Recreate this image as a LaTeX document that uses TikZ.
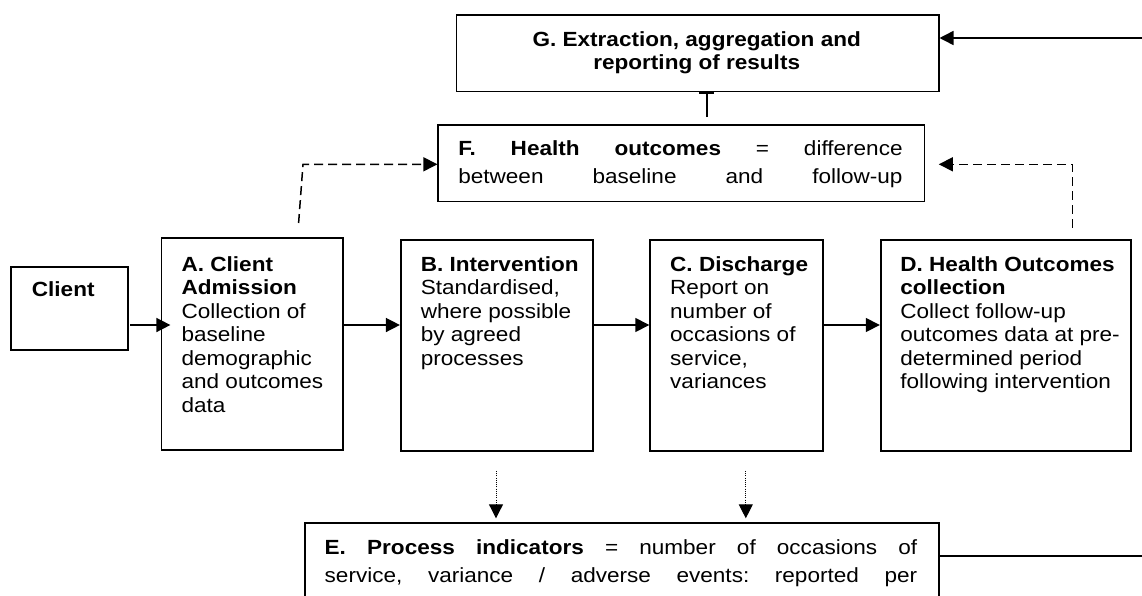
\documentclass[tikz,border=0pt]{standalone}
\usepackage{fontspec}
\setmainfont{Liberation Sans}[FakeStretch=1.1]
\usetikzlibrary{arrows.meta}

\begin{document}
\begin{tikzpicture}[x=1pt,y=-1pt,
  box/.style={draw, line width=1.8pt, inner sep=0pt, anchor=north west},
  txt/.style={inner sep=0pt, anchor=base west, font=\fontsize{20.5pt}{23.5pt}\selectfont},
  tip/.style={-{Triangle[length=14pt,width=14pt]}},
  flow/.style={line width=1.5pt, tip},
  dashflow/.style={line width=1.5pt, dash pattern=on 9pt off 5pt, tip},
  dotflow/.style={line width=1pt, dash pattern=on 1pt off 1.2pt, tip},
  plain/.style={line width=1.5pt}]

\clip (0,0) rectangle (1142,595);

% ---- boxes ----
\node[box, minimum width=482.1pt, minimum height=76.5pt] (G) at (455.6,14) {};
\node[box, minimum width=486.1pt, minimum height=76.5pt] (F) at (437.4,124) {};
\node[box, minimum width=116.5pt, minimum height=83.3pt] (CL) at (10.2,265.7) {};
\node[box, minimum width=181.7pt, minimum height=211.7pt] (A) at (160.6,237.3) {};
\node[box, minimum width=191.9pt, minimum height=211.6pt] (B) at (399.9,238.7) {};
\node[box, minimum width=173.0pt, minimum height=211.6pt] (C) at (649.3,238.7) {};
\node[box, minimum width=250.2pt, minimum height=211.6pt] (D) at (879.8,238.7) {};
\node[box, minimum width=634.0pt, minimum height=120pt] (E) at (303.7,521.7) {};

% ---- texts ----
\node[txt, anchor=base] (tG) at (696.7,46)
  {\parbox[t]{470pt}{\centering\bfseries G. Extraction, aggregation and\\ reporting of results}};

\node[txt] (tF) at (458.1,155)
  {\vtop{\baselineskip=28pt
   \hbox to 444.3pt{\textbf{F.}\hfil\textbf{Health}\hfil\textbf{outcomes}\hfil=\hfil difference}
   \hbox to 444.3pt{between\hfil baseline\hfil and\hfil follow-up}}};

\node[txt] (tCL) at (31.7,296) {\textbf{Client}};

\node[txt] (tA) at (181.4,271)
  {\parbox[t]{160pt}{\raggedright\textbf{A. Client}\\ \textbf{Admission}\\ Collection of\\ baseline\\ demographic\\ and outcomes\\ data}};

\node[txt] (tB) at (420.6,271)
  {\parbox[t]{170pt}{\raggedright\textbf{B. Intervention}\\ Standardised,\\ where possible\\ by agreed\\ processes}};

\node[txt] (tC) at (670,271)
  {\parbox[t]{150pt}{\raggedright\textbf{C. Discharge}\\ Report on\\ number of\\ occasions of\\ service,\\ variances}};

\node[txt] (tD) at (900.2,271)
  {\parbox[t]{225pt}{\raggedright\textbf{D. Health Outcomes}\\ \textbf{collection}\\ Collect follow-up\\ outcomes data at pre-\\ determined period\\ following intervention}};

\node[txt] (tE) at (324.5,554)
  {\vtop{\baselineskip=28pt
   \hbox to 592.5pt{\textbf{E.}\hfil\textbf{Process}\hfil\textbf{indicators}\hfil=\hfil number\hfil of\hfil occasions\hfil of}
   \hbox to 592.5pt{service,\hfil variance\hfil /\hfil adverse\hfil events:\hfil reported\hfil per}}};

% ---- main flow ----
\coordinate (cs) at (130.4,325);
\draw[flow] (cs) -- (170.4,325);
\draw[flow] (A.east |- cs) -- (B.west |- cs);
\draw[flow] (B.east |- cs) -- (C.west |- cs);
\draw[flow] (C.east |- cs) -- (D.west |- cs);

% ---- health outcome links ----
\coordinate (aUp) at (298.6,223);
\coordinate (aCorner) at (303,164.3);
\draw[dashflow] (aUp) -- (aCorner) -- (F.west |- aCorner);

\coordinate (dUp) at (1072.5,227.7);
\coordinate (dCorner) at (1072.5,164.3);
\coordinate (fIn) at (938.8,164.3);
\draw[dashflow] (dUp) -- (dCorner) -- (fIn);

% ---- F to G ----
\coordinate (fTop) at (706.8,117);
\draw[plain, -{Bar[width=15pt,line width=2.4pt]}] (fTop) -- (706.8,92);

% ---- feedback into G ----
\coordinate (gIn) at (1142,38);
\draw[flow] (gIn) -- (G.east |- gIn);

% ---- process indicator links ----
\coordinate (bDown) at (496,471);
\coordinate (cDown) at (745.8,471);
\draw[dotflow, shorten >=3.4pt] (bDown) -- (bDown |- E.north);
\draw[dotflow, shorten >=3.4pt] (cDown) -- (cDown |- E.north);

\coordinate (eOut) at (1142,556);
\draw[plain] (E.east |- eOut) -- (eOut);

\end{tikzpicture}
\end{document}
